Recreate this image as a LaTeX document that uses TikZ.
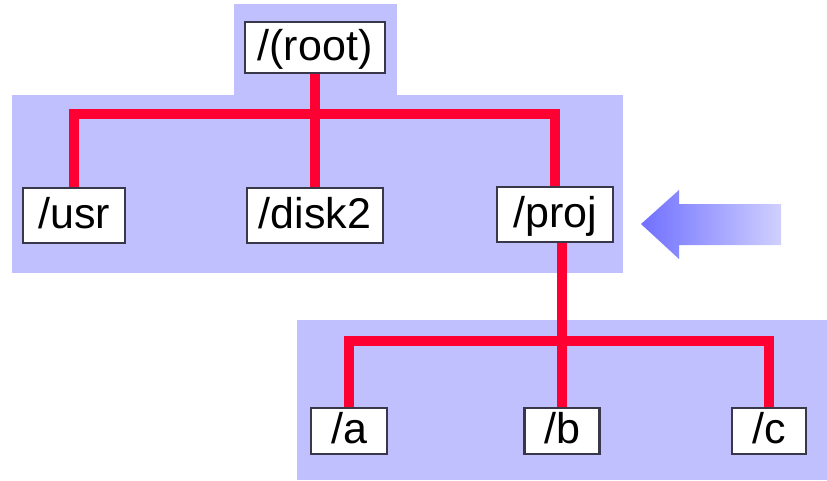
\documentclass[tikz,border=0pt]{standalone}
\usepackage{fontspec}
\setmainfont{Liberation Sans}
\definecolor{band}{HTML}{C0C0FF}
\definecolor{wire}{HTML}{FF0033}
\definecolor{boxline}{HTML}{383848}
\definecolor{arrowdark}{HTML}{7070FF}
\definecolor{arrowlight}{HTML}{D0D0FF}
\pgfdeclarelayer{bands}
\pgfdeclarelayer{wires}
\pgfsetlayers{bands,wires,main}
\begin{document}
\begin{tikzpicture}[x=1pt,y=-1pt,
  dirbox/.style={draw=boxline, line width=2.5pt, fill=white, inner sep=0pt,
    text height=34pt, text depth=9pt, font=\fontsize{43}{48}\selectfont},
  wireline/.style={draw=wire, line width=10pt, line join=miter}]
\useasboundingbox (0,0) rectangle (827,480);
% nodes
\node[dirbox, minimum width=140pt, minimum height=51pt] (root) at (315,47.5) {/(root)};
\node[dirbox, minimum width=102pt, minimum height=55pt] (usr) at (74,215.5) {/usr};
\node[dirbox, minimum width=136pt, minimum height=55pt] (disk) at (315,215.5) {/disk2};
\node[dirbox, minimum width=116pt, minimum height=55pt] (proj) at (555,214.5) {/proj};
\node[dirbox, minimum width=76pt, minimum height=46pt] (a) at (349,431) {/a};
\node[dirbox, minimum width=75pt, minimum height=46pt] (b) at (562,431) {/b};
\node[dirbox, minimum width=74pt, minimum height=46pt] (c) at (769,431) {/c};
\coordinate (ubar) at (0,114);
\coordinate (lbar) at (0,341);
% background bands
\begin{pgfonlayer}{bands}
\fill[band] (234,4) rectangle (397,97);
\fill[band] (12,95) rectangle (623,273);
\fill[band] (297,320) rectangle (827,480);
\end{pgfonlayer}
% connectors
\begin{pgfonlayer}{wires}
\path[wireline] (usr.north) -- (usr.north |- ubar) -- (proj.north |- ubar) -- (proj.north);
\path[wireline] (root.south) -- (disk.north);
\path[wireline] (proj.south -| b.north) -- (b.north);
\path[wireline] (a.north) -- (a.north |- lbar) -- (c.north |- lbar) -- (c.north);
\end{pgfonlayer}
% pointer arrow
\shade[left color=arrowdark, right color=arrowlight]
  (641,224) -- (679,190) -- (679,204) -- (781,204) -- (781,245) -- (679,245) -- (679,259) -- cycle;
\end{tikzpicture}
\end{document}
